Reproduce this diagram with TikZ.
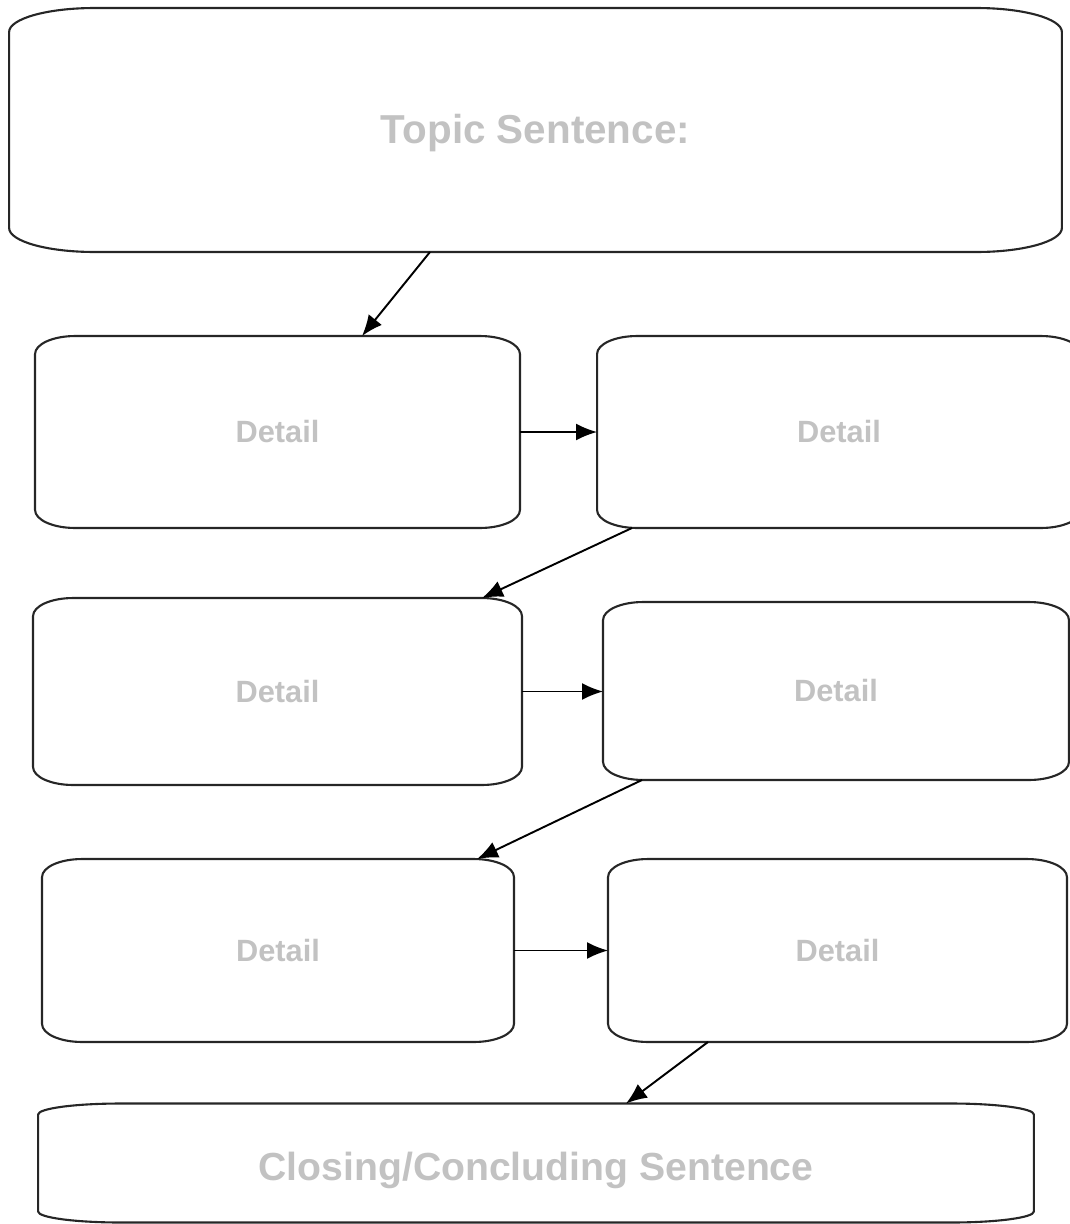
\documentclass[tikz,border=0pt]{standalone}
\usepackage{fontspec}
\setmainfont{Liberation Sans}
\usetikzlibrary{arrows.meta}
\tikzset{card/.style={inner sep=0pt, outer sep=0pt, text=txtgray, font=\bfseries}}
\tikzset{rim/.style={draw=black!85, line width=1.2pt}}
\tikzset{link/.style={line width=1.1pt, -{Latex[length=0.42cm, width=0.34cm]}}}
\definecolor{txtgray}{rgb}{0.76,0.76,0.76}
% outline with flat elliptic corners: node, x radius, y radius
\newcommand\cardline[3]{%
  \draw [rim] ([xshift=#2]#1.north west) -- ([xshift=-#2]#1.north east)
    arc [start angle=90, end angle=0, x radius=#2, y radius=#3]
    -- ([yshift=#3]#1.south east)
    arc [start angle=0, end angle=-90, x radius=#2, y radius=#3]
    -- ([xshift=#2]#1.south west)
    arc [start angle=270, end angle=180, x radius=#2, y radius=#3]
    -- ([yshift=-#3]#1.north west)
    arc [start angle=180, end angle=90, x radius=#2, y radius=#3] -- cycle;}

\begin{document}
\begin{tikzpicture}[x=0.02cm, y=0.02cm]
\useasboundingbox (0,0) rectangle (1070,-1224);
\node (topic) [card, minimum width=21.06cm, minimum height=4.88cm, font=\fontsize{23}{27}\selectfont\bfseries] at (535.5,-130) {\smash{\raisebox{-0.27cm}{Topic Sentence:}}};
\cardline{topic}{1.7cm}{0.48cm}
\foreach \n/\x/\y/\w/\h in {1/277.5/-432/9.7/3.84, 2/839/-432/9.68/3.84,
    3/277.5/-691.5/9.78/3.74, 4/836/-691/9.32/3.56,
    5/278/-950.5/9.44/3.66, 6/837.5/-950.5/9.18/3.66} {
  \node (d\n) [card, minimum width=\w cm, minimum height=\h cm, font=\fontsize{17.5}{21}\selectfont\bfseries] at (\x,\y) {Detail};
  \cardline{d\n}{0.8cm}{0.36cm}
}
\node (close) [card, minimum width=19.92cm, minimum height=2.38cm, font=\fontsize{22.3}{26}\selectfont\bfseries] at (536,-1163) {\smash{\raisebox{-0.34cm}{Closing/Concluding Sentence}}};
\cardline{close}{1.65cm}{0.22cm}
% connectors
\draw [link] ([shift={(-105.5,0)}]topic.south) -- ([shift={(84.5,0)}]d1.north);
\draw [link] (d1.east) -- (d1.east -| d2.west);
\draw [link] ([shift={(-207,0)}]d2.south) -- ([shift={(204.5,0)}]d3.north);
\draw [link] (d3.east) -- (d3.east -| d4.west);
\draw [link] ([shift={(-194,0)}]d4.south) -- ([shift={(199,0)}]d5.north);
\draw [link] (d5.east) -- (d5.east -| d6.west);
\draw [link] ([shift={(-129.5,0)}]d6.south) -- ([shift={(90,0)}]close.north);
\end{tikzpicture}
\end{document}
